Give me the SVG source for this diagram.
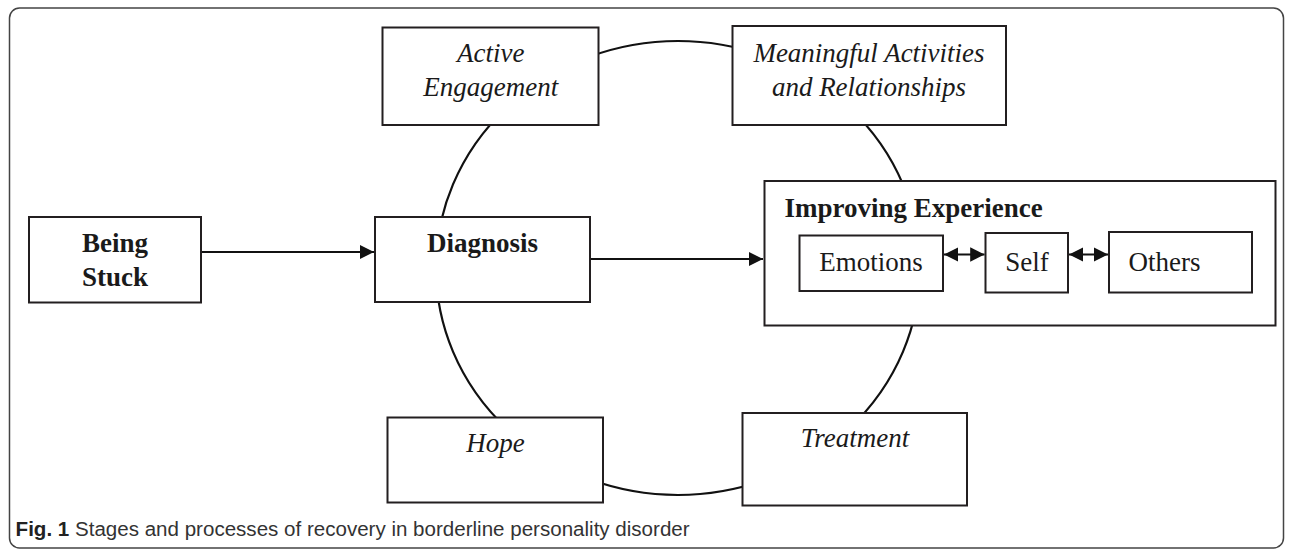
<svg xmlns="http://www.w3.org/2000/svg" width="1292" height="553" viewBox="0 0 1292 553">
<style>
.box{fill:#fff;stroke:#231f20;stroke-width:2}
.conn{fill:none;stroke:#111;stroke-width:2.2}
.t{font-family:"Liberation Serif","Times New Roman",serif;fill:#1a1a1a;font-size:27px}
.b{font-weight:bold}
.i{font-style:italic}
.c{text-anchor:middle}
.cap{font-family:"Liberation Sans Narrow","Liberation Sans",Arial,sans-serif;font-size:20px;fill:#333}
</style>
<defs>
<marker id="ah" viewBox="0 0 10 10" refX="10" refY="5" markerWidth="6.5" markerHeight="6.5" markerUnits="strokeWidth" orient="auto-start-reverse">
<path d="M0,0 L10,5 L0,10 Z" fill="#111"/>
</marker>
</defs>
<rect x="9.5" y="8" width="1274" height="540" rx="10" fill="#fff" stroke="#444" stroke-width="1.5"/>
<g id="connectors">
<ellipse cx="678" cy="268" rx="242" ry="227" class="conn"/>
<line x1="201" y1="252" x2="374" y2="252" class="conn" marker-end="url(#ah)"/>
<line x1="590" y1="259" x2="763" y2="259" class="conn" marker-end="url(#ah)"/>
</g>
<g id="being-stuck">
<rect class="box" x="29" y="217" width="172" height="85.5"/>
<text class="t b c" x="115" y="251.5">Being</text>
<text class="t b c" x="115" y="286">Stuck</text>
</g>
<g id="diagnosis">
<rect class="box" x="375" y="217" width="215" height="85"/>
<text class="t b c" x="482.5" y="252">Diagnosis</text>
</g>
<g id="active-engagement">
<rect class="box" x="382.5" y="27.5" width="216" height="97.5"/>
<text class="t i c" x="490.7" y="61.5">Active</text>
<text class="t i c" x="490.7" y="95.5">Engagement</text>
</g>
<g id="meaningful">
<rect class="box" x="732.5" y="26" width="273.5" height="99"/>
<text class="t i c" x="869" y="61.5">Meaningful Activities</text>
<text class="t i c" x="869" y="95.5">and Relationships</text>
</g>
<g id="hope">
<rect class="box" x="387.5" y="417.5" width="215.5" height="85"/>
<text class="t i c" x="495.5" y="451.5">Hope</text>
</g>
<g id="treatment">
<rect class="box" x="742.5" y="413" width="224.5" height="92.5"/>
<text class="t i c" x="855" y="447">Treatment</text>
</g>
<g id="improving-experience">
<rect class="box" x="764.5" y="181" width="511" height="144.5"/>
<text class="t b" x="784.5" y="216.5">Improving Experience</text>
<g id="emotions">
<rect class="box" x="799.5" y="235.5" width="143.5" height="55.5"/>
<text class="t" x="871" y="271" text-anchor="middle">Emotions</text>
</g>
<g id="self">
<rect class="box" x="985.5" y="233" width="82.5" height="59.5"/>
<text class="t" x="1027" y="271" text-anchor="middle">Self</text>
</g>
<g id="others">
<rect class="box" x="1109" y="232" width="143" height="60.5"/>
<text class="t" x="1128.5" y="271">Others</text>
</g>
<g id="inner-connectors">
<line x1="944" y1="254.5" x2="984.5" y2="254.5" class="conn" marker-start="url(#ah)" marker-end="url(#ah)"/>
<line x1="1069" y1="254.5" x2="1108" y2="254.5" class="conn" marker-start="url(#ah)" marker-end="url(#ah)"/>
</g>
</g>
<g id="caption">
<text class="cap" x="15.6" y="535.5" textLength="674" lengthAdjust="spacingAndGlyphs"><tspan font-weight="bold" fill="#222">Fig. 1</tspan> Stages and processes of recovery in borderline personality disorder</text>
</g>
</svg>
